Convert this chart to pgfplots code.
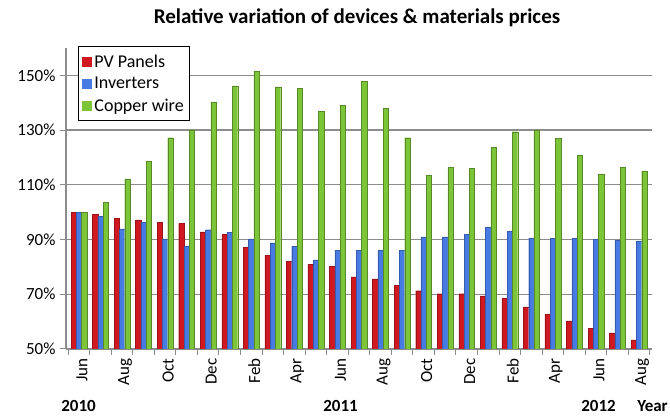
\documentclass[border=0pt]{standalone}
\usepackage{fontspec}
\setmainfont{Carlito}
\usepackage{pgfplots}
\pgfplotsset{compat=1.18}

\definecolor{pvred}{RGB}{208,24,32}
\definecolor{invblue}{RGB}{72,122,228}
\definecolor{cugreen}{RGB}{124,196,56}
\definecolor{gridgray}{RGB}{140,140,140}

% Monthly price index (June 2010 = 100%), June 2010 -- August 2012
\pgfplotstableread{
idx pv    inv   cu
0   100.0 100.0 100.0
1   99.2  98.5  103.6
2   97.8  93.9  112.2
3   97.2  96.3  118.7
4   96.3  90.2  127.2
5   95.9  87.6  130.0
6   92.8  93.6  140.3
7   91.8  92.7  146.2
8   87.2  90.2  151.5
9   84.2  88.8  145.8
10  82.1  87.6  145.3
11  80.9  82.6  136.9
12  80.1  86.1  139.0
13  76.4  86.1  147.9
14  75.6  86.1  137.9
15  73.2  86.1  127.2
16  71.3  91.0  113.4
17  70.2  91.0  116.3
18  70.2  92.0  116.0
19  69.4  94.5  123.6
20  68.5  93.0  129.4
21  65.4  90.6  130.0
22  62.7  90.4  127.0
23  60.3  90.4  120.9
24  57.6  90.1  114.0
25  55.9  89.8  116.3
26  53.3  89.5  115.1
}\prices

\newcommand{\lblfont}{\fontsize{17}{20}\selectfont}

\begin{document}
\begin{tikzpicture}[x=1pt,y=1pt]
\useasboundingbox (-66,-68) rectangle (604,349);
\begin{axis}[
  at={(0,0)}, anchor=south west,
  scale only axis, width=586pt, height=301pt,
  xmin=-0.6, xmax=26.6, ymin=50, ymax=160,
  ybar=0pt, bar width=0.245,
  axis x line*=bottom, axis y line*=left,
  axis line style={gridgray, line width=1.2pt},
  ytick={50,70,...,150},
  yticklabel={\pgfmathprintnumber{\tick}\%},
  /pgf/number format/assume math mode=true,
  ymajorgrids,
  major grid style={gridgray, line width=1.2pt},
  xtick={0,2,...,26},
  xticklabels={Jun,Aug,Oct,Dec,Feb,Apr,Jun,Aug,Oct,Dec,Feb,Apr,Jun,Aug},
  minor xtick={-0.5,0.5,...,26.5},
  tick align=outside,
  major x tick style={draw=none},
  minor x tick style={gridgray, line width=1pt},
  ytick style={gridgray, line width=1pt},
  major tick length=6pt, minor tick length=6pt,
  x tick label style={rotate=90, anchor=east, font=\lblfont, yshift=-3pt},
  y tick label style={font=\lblfont, xshift=-1pt},
  legend style={at={(axis description cs:0.0205,1.006)}, anchor=north west,
    draw=black, line width=0.9pt, font=\fontsize{18}{21}\selectfont,
    inner xsep=4pt, inner ysep=6pt, row sep=4.5pt,
    cells={anchor=west}},
  legend image code/.code={\fill[#1,draw=none] (0pt,-5pt) rectangle (10pt,5pt);},
]
\addplot[fill=pvred, draw=pvred!75!black, line width=0.3pt] table[x=idx,y=pv] {\prices};
\addplot[fill=invblue, draw=invblue!75!black, line width=0.3pt] table[x=idx,y=inv] {\prices};
\addplot[fill=cugreen, draw=cugreen!70!black, line width=0.3pt] table[x=idx,y=cu] {\prices};
\legend{PV Panels, Inverters, Copper wire}
\end{axis}

\node[font=\fontsize{21}{24}\selectfont\bfseries] at (291,331) {Relative variation of devices \& materials prices};
\begin{scope}[every node/.style={font=\fontsize{17}{20}\selectfont\bfseries, inner sep=0pt, anchor=base}]
\node at (12.5,-62.5) {2010};
\node at (274.5,-62.5) {2011};
\node at (532.5,-62.5) {2012};
\node at (586.5,-62.5) {Year};
\end{scope}
\end{tikzpicture}
\end{document}
